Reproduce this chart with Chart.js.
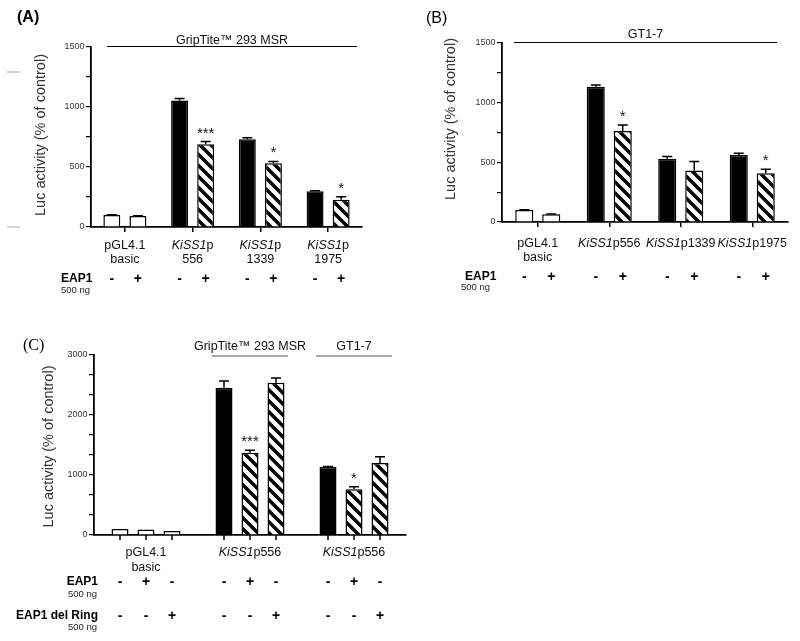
<!DOCTYPE html>
<html>
<head>
<meta charset="utf-8">
<script src="https://cdn.jsdelivr.net/npm/chart.js@4.4.1/dist/chart.umd.min.js"></script>
<style>
  html, body { margin: 0; padding: 0; background: #fff; }
  #fig { position: relative; width: 800px; height: 641px; overflow: hidden; }
  #fig canvas { position: absolute; }
</style>
</head>
<body>
<div id="fig">
  <canvas id="chartA" width="400" height="320" style="left:0;top:0"></canvas>
  <canvas id="chartB" width="400" height="320" style="left:400px;top:0"></canvas>
  <canvas id="chartC" width="450" height="311" style="left:0;top:330px"></canvas>
</div>
<script>
const FONT = '"Liberation Sans", Arial, sans-serif';

// (A) GripTite 293 MSR cells
// '_' marks italic runs, '|' breaks a label onto a second line
const categoriesA = ['pGL4.1|basic', '_KiSS1_p|556', '_KiSS1_p|1339', '_KiSS1_p|1975'];
const controlA = [100, 1055, 732, 298];
const controlErrA = [3, 16, 12, 4];
const eap1A = [92, 690, 532, 228];
const eap1ErrA = [2, 22, 14, 24];
const starsA = ['', '***', '*', '*'];
const yMajorA = [0, 500, 1000, 1500];

// (B) GT1-7 cells
const categoriesB = ['pGL4.1|basic', '_KiSS1_p556', '_KiSS1_p1339', '_KiSS1_p1975'];
const controlB = [100, 1133, 531, 562];
const controlErrB = [2, 15, 17, 14];
const eap1B = [65, 762, 431, 409];
const eap1ErrB = [3, 51, 75, 33];
const starsB = ['', '*', '', '*'];
const yMajorB = [0, 500, 1000, 1500];

// (C) EAP1 vs EAP1 del Ring
const categoriesC = ['pGL4.1|basic', '_KiSS1_p556', '_KiSS1_p556'];
const cellLinesC = ['', 'GripTite™ 293 MSR', 'GT1-7'];
const controlC = [100, 2456, 1133];
const controlErrC = [0, 110, 10];
const eap1C = [90, 1372, 761];
const eap1ErrC = [0, 40, 45];
const delRingC = [65, 2539, 1200];
const delRingErrC = [0, 78, 106];
const starsC = ['', '***', '*'];
const yMajorC = [0, 1000, 2000, 3000];

const yTitle = 'Luc activity (% of control)';

function makeHatch(canvas) {
  const tile = document.createElement('canvas');
  tile.width = 11; tile.height = 11;
  const g = tile.getContext('2d');
  g.fillStyle = '#fff';
  g.fillRect(0, 0, 11, 11);
  g.strokeStyle = '#000';
  g.lineWidth = 3.5;
  g.beginPath();
  g.moveTo(-3, -3); g.lineTo(14, 14);
  g.moveTo(-3, 8); g.lineTo(3, 14);
  g.moveTo(8, -3); g.lineTo(14, 3);
  g.stroke();
  return canvas.getContext('2d').createPattern(tile, 'repeat');
}

function fontStr(size, o) {
  return (o.italic ? 'italic ' : '') + (o.bold ? 'bold ' : '') + size + 'px ' + (o.family || FONT);
}

function drawText(ctx, str, x, y, size, o = {}) {
  ctx.font = fontStr(size, o);
  ctx.textAlign = o.align || 'left';
  ctx.textBaseline = 'alphabetic';
  ctx.fillStyle = o.color || '#000';
  ctx.fillText(str, x, y);
}

// a label line with italic runs, centred on cx
function drawRuns(ctx, line, cx, y, size) {
  const runs = line.split('_').map((t, i) => ({ text: t, italic: i % 2 === 1 })).filter(r => r.text);
  let w = 0;
  runs.forEach(r => { ctx.font = fontStr(size, r); w += ctx.measureText(r.text).width; });
  let x = cx - w / 2;
  ctx.textAlign = 'left';
  ctx.fillStyle = '#111';
  runs.forEach(r => {
    ctx.font = fontStr(size, r);
    ctx.fillText(r.text, x, y);
    x += ctx.measureText(r.text).width;
  });
}

function hline(ctx, x1, x2, y, color, w) {
  ctx.save();
  ctx.strokeStyle = color;
  ctx.lineWidth = w;
  ctx.beginPath();
  ctx.moveTo(x1, y); ctx.lineTo(x2, y);
  ctx.stroke();
  ctx.restore();
}

const errorBars = {
  id: 'errorBars',
  afterDatasetsDraw(chart) {
    const ctx = chart.ctx;
    const y = chart.scales.y;
    chart.data.datasets.forEach((ds, i) => {
      chart.getDatasetMeta(i).data.forEach((bar, j) => {
        const err = ds.errors[j];
        let top = bar.y;
        if (err) {
          top = y.getPixelForValue(ds.data[j] + err);
          ctx.save();
          ctx.strokeStyle = '#000';
          ctx.lineWidth = 1.5;
          ctx.beginPath();
          ctx.moveTo(bar.x, bar.y); ctx.lineTo(bar.x, top);
          ctx.moveTo(bar.x - 5, top); ctx.lineTo(bar.x + 5, top);
          ctx.stroke();
          ctx.restore();
        }
        if (ds.stars && ds.stars[j]) {
          drawText(ctx, ds.stars[j], bar.x, top - 4, 15, { align: 'center', color: '#111' });
        }
      });
    });
  }
};

// panel letter, y title, header, category labels and treatment rows
function figurePlugin(cfg) {
  return {
    id: 'figure',
    afterDraw(chart) {
      const ctx = chart.ctx;
      const x = chart.scales.x;
      ctx.save();
      drawText(ctx, cfg.letter, cfg.letterX, cfg.letterY, 16,
        { bold: cfg.letterBold, family: cfg.letterFamily });

      ctx.save();
      ctx.translate(cfg.titleX, cfg.titleY);
      ctx.rotate(-Math.PI / 2);
      drawText(ctx, yTitle, 0, 4.5, 14.5, { align: 'center', color: '#333' });
      ctx.restore();

      cfg.headers.forEach(h => {
        drawText(ctx, h.text, (h.x1 + h.x2) / 2, h.y, 12.5, { align: 'center', color: '#111' });
        hline(ctx, h.x1, h.x2, h.lineY, h.color || '#000', h.width || 1);
      });

      chart.data.labels.forEach((lab, i) => {
        const cx = x.getPixelForValue(i);
        lab.split('|').forEach((line, k) => drawRuns(ctx, line, cx, cfg.labelY[k], 12.5));
      });

      cfg.rows.forEach((row, r) => {
        drawText(ctx, row.name, row.x, row.y, 12, { bold: true, align: row.align || 'left' });
        drawText(ctx, '500 ng', row.subX, row.subY, 9.5, { color: '#222' });
        chart.data.datasets.forEach((ds, i) => {
          chart.getDatasetMeta(i).data.forEach(bar => {
            drawText(ctx, ds.signs[r], bar.x, row.y + 1, 14, { bold: true, align: 'center' });
          });
        });
      });

      if (cfg.extra) cfg.extra(ctx, chart);
      ctx.restore();
    }
  };
}

function yTicks(majors, subdivisions) {
  return scale => {
    const t = [];
    for (let k = 0; k < majors.length - 1; k++) {
      const step = (majors[k + 1] - majors[k]) / subdivisions;
      for (let s = 0; s < subdivisions; s++) t.push({ value: majors[k] + s * step });
    }
    t.push({ value: majors[majors.length - 1] });
    scale.ticks = t;
  };
}

function options(pad, majors, subdivisions) {
  return {
    responsive: false,
    animation: false,
    devicePixelRatio: 1,
    events: [],
    layout: { padding: pad },
    plugins: { legend: { display: false }, tooltip: { enabled: false } },
    scales: {
      x: {
        offset: true,
        grid: { offset: false, drawOnChartArea: false, drawTicks: pad.xTicks, tickLength: 5, color: '#000', lineWidth: 1.5 },
        border: { color: '#000', width: 1.8 },
        ticks: { display: false },
        afterFit: s => { s.height = 20; }
      },
      y: {
        min: majors[0],
        max: majors[majors.length - 1],
        afterBuildTicks: yTicks(majors, subdivisions),
        ticks: {
          autoSkip: false,
          padding: 1.5,
          color: '#333',
          font: { family: FONT, size: 9 },
          callback: v => majors.includes(Math.round(v)) && Math.abs(v - Math.round(v)) < 1e-6 ? String(Math.round(v)) : ''
        },
        grid: { drawOnChartArea: false, tickLength: 5, color: '#000', lineWidth: 1.2 },
        border: { color: '#000', width: 1.8 },
        afterFit: s => { s.width = 60; }
      }
    }
  };
}

function barSet(data, errors, stars, fills, signs, cat, bar) {
  return {
    data, errors, stars, signs,
    backgroundColor: fills,
    borderColor: '#000',
    borderWidth: 1.5,
    borderSkipped: 'bottom',
    categoryPercentage: cat,
    barPercentage: bar
  };
}

// ---- (A)
const canvasA = document.getElementById('chartA');
const hatchA = makeHatch(canvasA);
new Chart(canvasA, {
  type: 'bar',
  data: {
    labels: categoriesA,
    datasets: [
      barSet(controlA, controlErrA, null, categoriesA.map((_, i) => i === 0 ? '#fff' : '#000'), ['-'], 0.77, 0.65),
      barSet(eap1A, eap1ErrA, starsA, categoriesA.map((_, i) => i === 0 ? '#fff' : hatchA), ['+'], 0.77, 0.65)
    ]
  },
  options: options({ left: 31, right: 38, top: 47, bottom: 73, xTicks: true }, yMajorA, 2),
  plugins: [errorBars, figurePlugin({
    letter: '(A)', letterX: 17, letterY: 22, letterBold: true,
    titleX: 40, titleY: 135,
    headers: [{ text: 'GripTite™ 293 MSR', x1: 107, x2: 357, y: 44, lineY: 46.5 }],
    labelY: [249, 263],
    rows: [{ name: 'EAP1', x: 61, y: 282, subX: 61, subY: 293 }],
    extra: ctx => {
      hline(ctx, 7, 20, 72, '#c8c8c8', 1.5);
      hline(ctx, 7, 20, 227, '#c8c8c8', 1.5);
    }
  })]
});

// ---- (B)
const canvasB = document.getElementById('chartB');
const hatchB = makeHatch(canvasB);
new Chart(canvasB, {
  type: 'bar',
  data: {
    labels: categoriesB,
    datasets: [
      barSet(controlB, controlErrB, null, categoriesB.map((_, i) => i === 0 ? '#fff' : '#000'), ['-'], 0.755, 0.67),
      barSet(eap1B, eap1ErrB, starsB, categoriesB.map((_, i) => i === 0 ? '#fff' : hatchB), ['+'], 0.755, 0.67)
    ]
  },
  options: options({ left: 42, right: 12, top: 43, bottom: 78, xTicks: true }, yMajorB, 2),
  plugins: [errorBars, figurePlugin({
    letter: '(B)', letterX: 26, letterY: 23, letterBold: false,
    titleX: 50, titleY: 119,
    headers: [{ text: 'GT1-7', x1: 114, x2: 377, y: 38, lineY: 42.5 }],
    labelY: [247, 261],
    rows: [{ name: 'EAP1', x: 65, y: 280, subX: 61, subY: 290 }]
  })]
});

// ---- (C)
const canvasC = document.getElementById('chartC');
const hatchC = makeHatch(canvasC);
new Chart(canvasC, {
  type: 'bar',
  data: {
    labels: categoriesC,
    datasets: [
      barSet(controlC, controlErrC, null, categoriesC.map((_, i) => i === 0 ? '#fff' : '#000'), ['-', '-'], 0.75, 0.654),
      barSet(eap1C, eap1ErrC, starsC, categoriesC.map((_, i) => i === 0 ? '#fff' : hatchC), ['+', '-'], 0.75, 0.654),
      barSet(delRingC, delRingErrC, null, categoriesC.map((_, i) => i === 0 ? '#fff' : hatchC), ['-', '+'], 0.75, 0.654)
    ]
  },
  options: options({ left: 34, right: 44, top: 25, bottom: 86, xTicks: false }, yMajorC, 3),
  plugins: [errorBars, figurePlugin({
    letter: '(C)', letterX: 23, letterY: 20, letterBold: false, letterFamily: '"Liberation Serif", "DejaVu Serif", serif',
    titleX: 48, titleY: 116.5,
    headers: [],
    labelY: [226, 241],
    rows: [
      { name: 'EAP1', x: 98, y: 255, align: 'right', subX: 68, subY: 267 },
      { name: 'EAP1 del Ring', x: 98, y: 289, align: 'right', subX: 68, subY: 300 }
    ],
    extra: (ctx, chart) => {
      const x = chart.scales.x;
      const base = chart.chartArea.bottom;
      // one tick under every bar
      ctx.save();
      ctx.strokeStyle = '#000';
      ctx.lineWidth = 1.5;
      chart.data.datasets.forEach((ds, i) => {
        chart.getDatasetMeta(i).data.forEach(bar => {
          ctx.beginPath();
          ctx.moveTo(bar.x, base);
          ctx.lineTo(bar.x, base + 5);
          ctx.stroke();
        });
      });
      ctx.restore();
      // cell line headers over the KiSS1p556 groups
      cellLinesC.forEach((name, i) => {
        if (!name) return;
        const cx = x.getPixelForValue(i);
        drawText(ctx, name, cx, 20, 12.5, { align: 'center', color: '#111' });
        hline(ctx, cx - 38, cx + 38, 26, '#555', 1);
      });
    }
  })]
});
</script>
</body>
</html>
